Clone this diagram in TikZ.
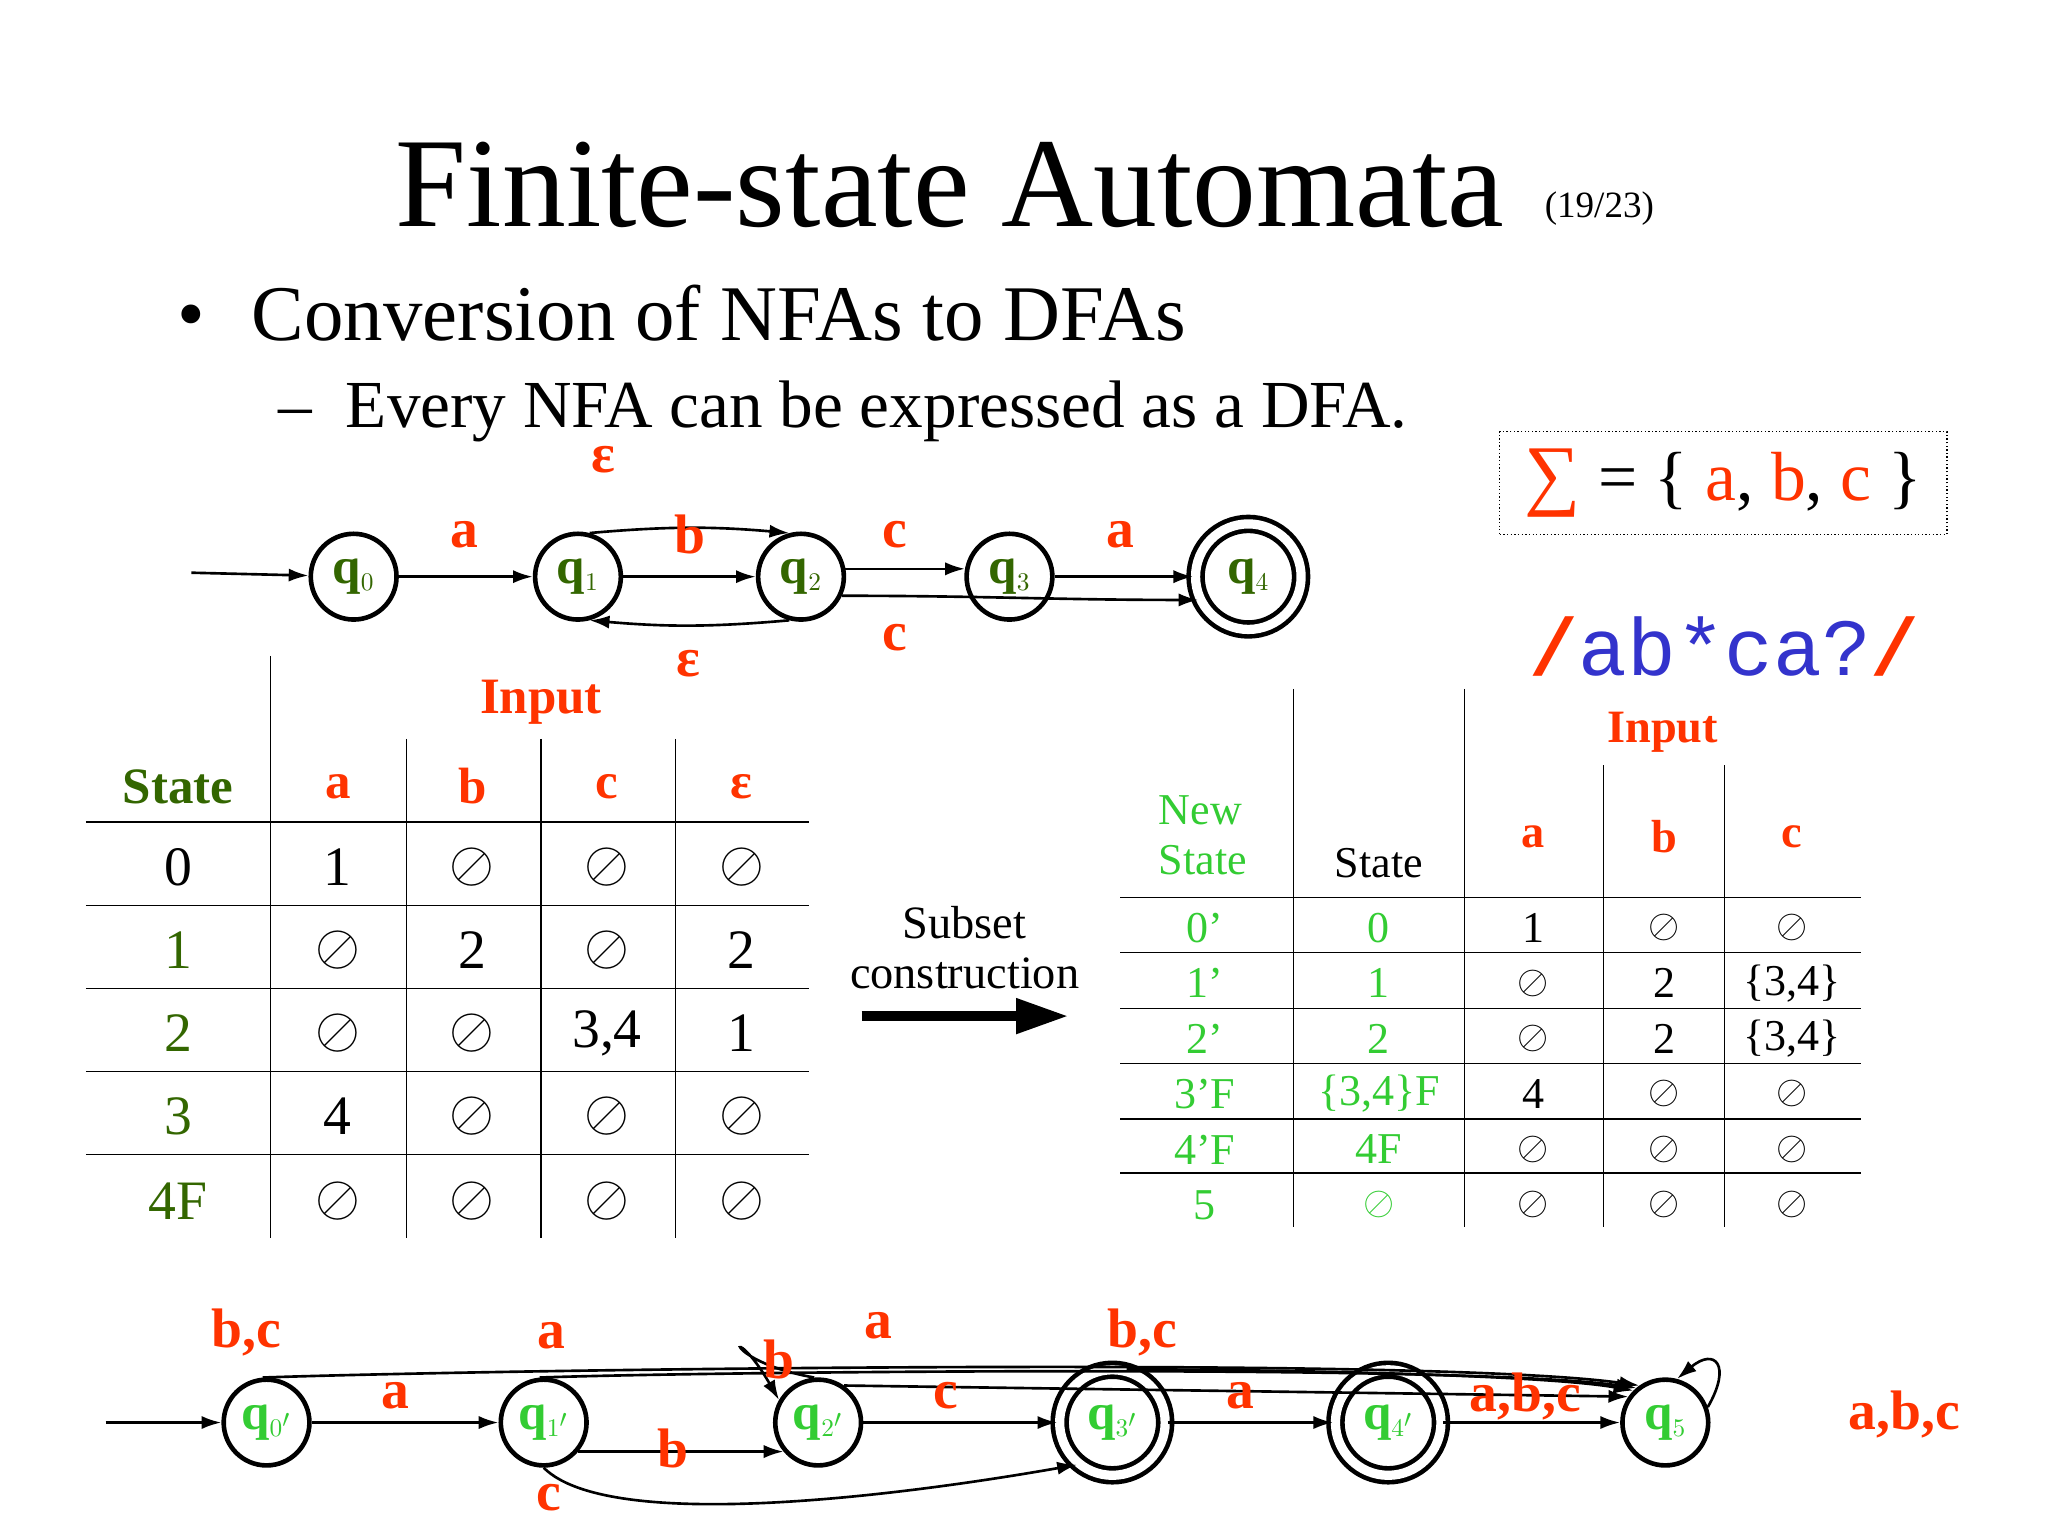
\documentclass[tikz,border=0pt]{standalone}
\usepackage{fontspec}
\setmainfont{Liberation Serif}
\newfontfamily\monof{Liberation Mono}
\usetikzlibrary{arrows.meta}
\definecolor{rd}{HTML}{FF3300}
\definecolor{dg}{HTML}{336600}
\definecolor{lg}{HTML}{33CC33}
\definecolor{bl}{HTML}{3333CC}
\newcommand{\es}{$\oslash$}
\begin{document}
\begin{tikzpicture}[x=0.02cm,y=-0.02cm,
  st/.style={circle,draw,line width=0.07cm,minimum size=1.3cm,inner sep=0pt,font=\fontsize{22}{22}\selectfont\bfseries},
  acc/.style={st,minimum size=1.6cm,double=white,double distance=0.14cm},
  lab/.style={text=rd,font=\fontsize{24}{24}\selectfont\bfseries},
  ed/.style={line width=0.04cm,-{Latex[length=0.3cm,width=0.2cm]}},
  tl/.style={line width=0.02cm},
  tt/.style={font=\fontsize{24}{24}\selectfont},
  rt/.style={font=\fontsize{19}{19}\selectfont}]
\useasboundingbox (0,0) rectangle (1552,1164);
% titles
\node[font=\fontsize{55}{55}\selectfont] (title) at (720,140) {Finite-state Automata};
\node[font=\fontsize{16}{16}\selectfont] (pg) at (1212,158) {(19/23)};
\node[font=\fontsize{34}{34}\selectfont,anchor=west] (b1) at (128,237) {\textbullet\hspace{0.6em}Conversion of NFAs to DFAs};
\node[font=\fontsize{29}{29}\selectfont,anchor=west] (b2) at (205,312) {--\hspace{0.5em}Every NFA can be expressed as a DFA.};
\node[draw,densely dotted,line width=0.02cm,minimum width=6.78cm,minimum height=1.56cm,font=\fontsize{30}{30}\selectfont] (sig) at (1306,366) {\textcolor{rd}{\fontsize{34}{34}\selectfont∑} = \{ \textcolor{rd}{a}, \textcolor{rd}{b}, \textcolor{rd}{c} \}};
\node[font=\fontsize{35}{35}\selectfont\monof] (re) at (1307,490) {\textcolor{rd}{\textbf{/}}\textcolor{bl}{ab*ca?}\textcolor{rd}{\textbf{/}}};
% top NFA
\node[st,text=dg] (q0) at (268,437) {q$_{\scriptscriptstyle 0}$};
\node[st,text=dg] (q1) at (438,437) {q$_{\scriptscriptstyle 1}$};
\node[st,text=dg] (q2) at (607,437) {q$_{\scriptscriptstyle 2}$};
\node[st,text=dg] (q3) at (765,437) {q$_{\scriptscriptstyle 3}$};
\node[acc,text=dg] (q4) at (946,437) {q$_{\scriptscriptstyle 4}$};
\coordinate (i0) at (145,434);
\draw[ed] (i0) -- (q0);
\draw[ed] (q0) -- (q1);
\draw[ed] (q1) -- (q2);
\draw[ed] (q2.10) -- (q3.170);
\draw[ed] (q3) -- (q4);
\draw[ed] (q1.75) to[out=5,in=175] (q2.105);
\draw[ed] (q2.-105) to[out=185,in=-5] (q1.-75);
\draw[ed] (q2.-25) to[out=0,in=180] (q4.-155);
\node[lab] (la1) at (352,405) {a};
\node[lab] (lb1) at (523,405) {b};
\node[lab] (lc1) at (678,405) {c};
\node[lab] (la2) at (849,405) {a};
\node[lab] (le1) at (457,348) {ε};
\node[lab] (le2) at (522,503) {ε};
\node[lab] (lc2) at (678,483) {c};
% left table
\draw[tl] (205,497) -- (205,938);
\foreach \x in {308,410,512} \draw[tl] (\x,560) -- (\x,938);
\foreach \y in {623,686,749,812,875} \draw[tl] (65,\y) -- (613,\y);
\node[lab,font=\fontsize{22}{22}\selectfont\bfseries] (inp1) at (410,532) {Input};
\node[tt,text=dg,font=\fontsize{22}{22}\selectfont\bfseries] (hs) at (135,596) {State};
\node[lab,font=\fontsize{22}{22}\selectfont\bfseries] (ha) at (256,596) {a};
\node[lab,font=\fontsize{22}{22}\selectfont\bfseries] (hb) at (358,596) {b};
\node[lab,font=\fontsize{22}{22}\selectfont\bfseries] (hc) at (460,596) {c};
\node[lab,font=\fontsize{22}{22}\selectfont\bfseries] (he) at (562,596) {ε};
\foreach \y/\s/\c/\a/\b/\cc/\e in {657/0/black/1/\es/\es/\es, 720/1/dg/\es/2/\es/2, 783/2/dg/\es/\es/3{,}4/1, 846/3/dg/4/\es/\es/\es, 910/4F/dg/\es/\es/\es/\es}{
  \node[tt,text=\c] at (135,\y) {\s};
  \node[tt] at (256,\y) {\a};
  \node[tt] at (358,\y) {\b};
  \node[tt] at (460,\y) {\cc};
  \node[tt] at (562,\y) {\e};
}
% subset construction
\node[font=\fontsize{20}{20}\selectfont,align=center] (sc) at (731,718) {Subset\\[0.05cm]construction};
\coordinate (sa) at (653,770);
\coordinate (sb) at (810,770);
\draw[line width=0.16cm,-{Triangle[length=0.8cm,width=0.5cm]}] (sa) -- (sb);
% right table
\foreach \x in {980,1110} \draw[tl] (\x,522) -- (\x,930);
\foreach \x in {1215,1307} \draw[tl] (\x,580) -- (\x,930);
\foreach \y in {680,722,764,806,848,889} \draw[tl] (849,\y) -- (1410,\y);
\node[lab,font=\fontsize{20}{20}\selectfont\bfseries] (inp2) at (1260,555) {Input};
\node[rt,text=lg,align=left,anchor=west] (ns) at (872,633) {New\\[0.08cm]State};
\node[rt] (st2) at (1045,654) {State};
\node[lab,font=\fontsize{20}{20}\selectfont\bfseries] (ra) at (1162,634) {a};
\node[lab,font=\fontsize{20}{20}\selectfont\bfseries] (rb) at (1261,634) {b};
\node[lab,font=\fontsize{20}{20}\selectfont\bfseries] (rc) at (1358,634) {c};
\foreach \y/\n/\s/\a/\b/\cc in {703/0'/0/1/\es/\es, 745/1'/1/\es/2/\{3{,}4\}, 787/2'/2/\es/2/\{3{,}4\}, 829/3'F/\{3{,}4\}F/4/\es/\es, 871/4'F/4F/\es/\es/\es, 913/5/\es/\es/\es/\es}{
  \node[rt,text=lg] at (913,\y) {\n};
  \node[rt,text=lg] at (1045,\y) {\s};
  \node[rt] at (1162,\y) {\a};
  \node[rt] at (1261,\y) {\b};
  \node[rt] at (1358,\y) {\cc};
}
% bottom DFA
\node[st,text=lg] (p0) at (202,1078) {q$_{\scriptscriptstyle 0'}$};
\node[st,text=lg] (p1) at (412,1078) {q$_{\scriptscriptstyle 1'}$};
\node[st,text=lg] (p2) at (620,1078) {q$_{\scriptscriptstyle 2'}$};
\node[acc,text=lg] (p3) at (843,1078) {q$_{\scriptscriptstyle 3'}$};
\node[acc,text=lg] (p4) at (1052,1078) {q$_{\scriptscriptstyle 4'}$};
\node[st,text=lg] (p5) at (1262,1078) {q$_{\scriptscriptstyle 5}$};
\coordinate (i1) at (80,1078);
\draw[ed] (i1) -- (p0);
\draw[ed] (p0) -- (p1);
\draw[ed] (p1.-40) -- (p2.-140);
\draw[ed] (p1.-90) to[out=-45,in=190,looseness=0.5] (p3.-130);
\draw[ed] (p2) -- (p3);
\draw[ed] (p3) -- (p4);
\draw[ed] (p4) -- (p5);
\draw[ed] (p0.95) to[out=2,in=172,looseness=0.4] (p5.125);
\draw[ed] (p1.95) to[out=2,in=172,looseness=0.4] (p5.130);
\draw[ed] (p2.55) -- (p5.145);
\draw[ed] (p3.75) to[out=0,in=170,looseness=0.5] (p5.135);
\draw[ed] (p2.95) to[out=170,in=120,looseness=6] (p2.150);
\draw[ed] (p5.20) to[out=60,in=40,looseness=3] (p5.75);
\node[lab] (m1) at (187,1010) {b,c};
\node[lab] (m2) at (300,1058) {a};
\node[lab] (m3) at (418,1012) {a};
\node[lab] (m4) at (510,1098) {b};
\node[lab] (m5) at (416,1135) {c};
\node[lab] (m6) at (590,1030) {b};
\node[lab] (m7) at (666,1005) {a};
\node[lab] (m8) at (717,1058) {c};
\node[lab] (m9) at (866,1010) {b,c};
\node[lab] (m10) at (940,1058) {a};
\node[lab] (m11) at (1156,1058) {a,b,c};
\node[lab] (m12) at (1443,1072) {a,b,c};
\end{tikzpicture}
\end{document}
